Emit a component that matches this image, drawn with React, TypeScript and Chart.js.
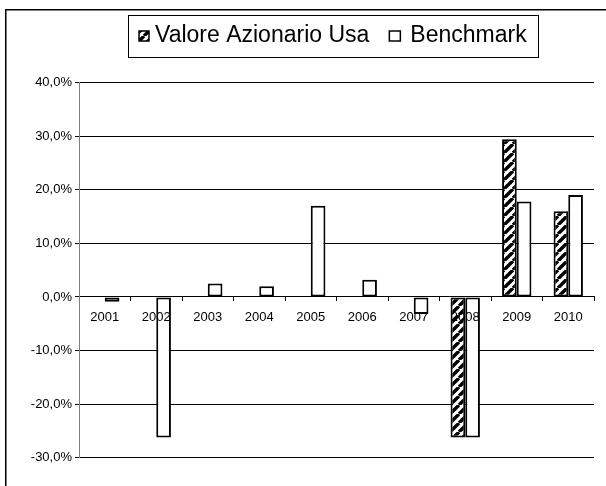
import React, { useEffect, useRef } from "react";
import { Chart, registerables } from "chart.js";

Chart.register(...registerables);

const categories = ["2001", "2002", "2003", "2004", "2005", "2006", "2007", "2008", "2009", "2010"];
const valoreAzionarioUsa: (number | null)[] = [null, null, null, null, null, null, null, -26.2, 29.4, 16.0];
const benchmark: number[] = [-0.9, -26.2, 2.5, 2.0, 17.0, 3.2, -3.2, -26.2, 17.8, 19.0];
const seriesLabels = ["Valore Azionario Usa", "Benchmark"];
const yMin = -30;
const yMax = 40;
const yStep = 10;

const FONT = '"Liberation Sans", Arial, Helvetica, sans-serif';

function makeHatch(): CanvasPattern | string {
  const n = 9;
  const c = document.createElement("canvas");
  c.width = n;
  c.height = n;
  const g = c.getContext("2d");
  if (!g) return "#000";
  g.fillStyle = "#fff";
  g.fillRect(0, 0, n, n);
  g.strokeStyle = "#000";
  g.lineWidth = 3.4;
  g.beginPath();
  for (const o of [-n, 0, n]) {
    g.moveTo(o, n);
    g.lineTo(o + n, 0);
  }
  g.stroke();
  return g.createPattern(c, "repeat") || "#000";
}

const framePlugin = {
  id: "frameLegend",
  afterDraw(chart: any) {
    const ctx: CanvasRenderingContext2D = chart.ctx;
    const hatch = chart.data.datasets[0].backgroundColor;
    ctx.save();
    // outer frame (left and top edges)
    ctx.fillStyle = "#000";
    ctx.fillRect(5, 9, 610, 1.5);
    ctx.fillRect(5, 9, 1.5, 490);
    // legend box
    ctx.strokeStyle = "#000";
    ctx.lineWidth = 1;
    ctx.strokeRect(128.5, 15.5, 410, 42);
    ctx.font = "23px " + FONT;
    ctx.textBaseline = "middle";
    const cy = 36;
    let x = 139;
    // marker 1
    ctx.fillStyle = hatch;
    ctx.fillRect(x, 31, 10, 10);
    ctx.lineWidth = 1.5;
    ctx.strokeRect(x, 31, 10, 10);
    ctx.fillStyle = "#000";
    x = 155;
    ctx.fillText(seriesLabels[0], x, cy);
    x += ctx.measureText(seriesLabels[0]).width + 20;
    // marker 2
    ctx.fillStyle = "#fff";
    ctx.fillRect(x, 31, 11, 10);
    ctx.strokeRect(x, 31, 11, 10);
    ctx.fillStyle = "#000";
    x += 21;
    ctx.fillText(seriesLabels[1], x, cy);
    ctx.restore();
  },
};

export default function App() {
  const ref = useRef<HTMLCanvasElement | null>(null);

  useEffect(() => {
    if (!ref.current) return;
    const hatch = makeHatch();
    const chart = new Chart(ref.current, {
      type: "bar",
      data: {
        labels: categories,
        datasets: [
          {
            label: seriesLabels[0],
            data: valoreAzionarioUsa,
            backgroundColor: hatch as any,
            borderColor: "#000",
            borderWidth: 2,
            borderSkipped: false,
            categoryPercentage: 0.57,
            barPercentage: 1,
          },
          {
            label: seriesLabels[1],
            data: benchmark,
            backgroundColor: "#fff",
            borderColor: "#000",
            borderWidth: 2,
            borderSkipped: false,
            categoryPercentage: 0.57,
            barPercentage: 1,
          },
        ],
      },
      options: {
        responsive: false,
        animation: false,
        devicePixelRatio: 1,
        layout: { padding: { left: 0, top: 82.5, right: 12, bottom: 28.2 } },
        plugins: {
          legend: { display: false },
          tooltip: { enabled: false },
        },
        scales: {
          x: {
            position: { y: 0 } as any,
            afterFit: (s: any) => {
              s.height = 0;
            },
            grid: {
              drawOnChartArea: false,
              drawTicks: true,
              tickLength: 4,
              color: "#000",
              offset: true,
            },
            border: { display: true, color: "#000", width: 1 },
            ticks: {
              z: 1,
              color: "#000",
              font: { family: FONT, size: 13 },
              padding: 9,
              maxRotation: 0,
              autoSkip: false,
            },
          },
          y: {
            min: yMin,
            max: yMax,
            afterFit: (s: any) => {
              s.width = 79;
            },
            grid: {
              color: "#000",
              lineWidth: 1,
              tickLength: 4,
            },
            border: { display: true, color: "#808080", width: 1 },
            ticks: {
              stepSize: yStep,
              color: "#000",
              padding: 3,
              font: { family: FONT, size: 13 },
              callback: (v: any) => Number(v).toFixed(1).replace(".", ",") + "%",
            },
          },
        },
      },
      plugins: [framePlugin],
    });
    return () => chart.destroy();
  }, []);

  return (
    <div style={{ position: "absolute", left: 0, top: 0, width: 606, height: 486, background: "#fff" }}>
      <canvas ref={ref} width={606} height={486} style={{ display: "block", width: 606, height: 486 }} />
    </div>
  );
}
